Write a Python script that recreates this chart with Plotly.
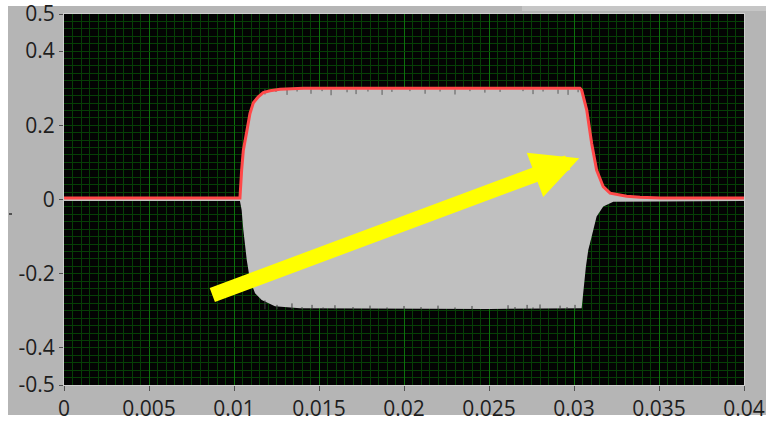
import plotly.graph_objects as go

# ---- data ----
# upper envelope of the burst (red trace)
up_t = [0.0, 0.01035, 0.01045, 0.01055, 0.01075, 0.01094, 0.01114, 0.01143, 0.01172,
        0.01212, 0.01271, 0.01408, 0.0200, 0.0250, 0.03035, 0.03045, 0.03075, 0.03104,
        0.03133, 0.03172, 0.03212, 0.0331, 0.03388, 0.0351, 0.04]
up_v = [0.004, 0.004, 0.080, 0.133, 0.183, 0.232, 0.261, 0.277, 0.288,
        0.293, 0.297, 0.300, 0.300, 0.300, 0.300, 0.295, 0.241, 0.151,
        0.0795, 0.0345, 0.017, 0.009, 0.006, 0.004, 0.004]
# lower envelope of the burst (grey signal)
lo_t = [0.0, 0.01035, 0.01045, 0.01055, 0.01065, 0.01075, 0.01094, 0.01124, 0.01163,
        0.01241, 0.01388, 0.0200, 0.0250, 0.03045, 0.03055, 0.0307, 0.03084, 0.03104,
        0.03133, 0.03172, 0.03231, 0.0333, 0.04]
lo_v = [-0.004, -0.004, -0.028, -0.082, -0.127, -0.163, -0.217, -0.253, -0.271,
        -0.288, -0.293, -0.295, -0.295, -0.293, -0.244, -0.181, -0.136, -0.100,
        -0.046, -0.019, -0.006, -0.004, -0.004]

# dark dips along the top edge of the signal (time, lowest value)
top_dip_t = [0.01182, 0.01247, 0.01312, 0.01371, 0.01453, 0.01518, 0.01571, 0.01665,
             0.01718, 0.01788, 0.01871, 0.01929, 0.02035, 0.02124, 0.02212, 0.02300,
             0.02388, 0.02476, 0.02565, 0.02700, 0.02759, 0.02818, 0.02906, 0.02965, 0.03024]
top_dip_v = [0.283, 0.290, 0.282, 0.291, 0.285, 0.292, 0.281, 0.289,
             0.284, 0.291, 0.282, 0.290, 0.292, 0.285, 0.291, 0.283,
             0.292, 0.288, 0.290, 0.292, 0.284, 0.291, 0.285, 0.282, 0.289]
# dark teeth along the bottom edge of the signal (time, highest value)
bot_dip_t = [0.01182, 0.01253, 0.01341, 0.01400, 0.01459, 0.01524, 0.01594, 0.01700,
             0.01800, 0.01900, 0.02000, 0.02100, 0.02200, 0.02300, 0.02400, 0.02612,
             0.02653, 0.02724, 0.02759, 0.02800, 0.02918, 0.02959, 0.03006]
bot_dip_v = [-0.272, -0.284, -0.280, -0.290, -0.284, -0.291, -0.285, -0.290,
             -0.286, -0.291, -0.287, -0.290, -0.286, -0.291, -0.287, -0.285,
             -0.290, -0.284, -0.291, -0.283, -0.286, -0.290, -0.284]

x_ticks = [0, 0.005, 0.01, 0.015, 0.02, 0.025, 0.03, 0.035, 0.04]
x_labels = ["0", "0.005", "0.01", "0.015", "0.02", "0.025", "0.03", "0.035", "0.04"]
y_ticks = [-0.5, -0.4, -0.2, 0, 0.2, 0.4, 0.5]
y_labels = ["-0.5", "-0.4", "-0.2", "0", "0.2", "0.4", "0.5"]

# ---- figure ----
poly_x = up_t + lo_t[::-1]
poly_y = up_v + lo_v[::-1]

def segments(ts, vs, base):
    xs, ys = [], []
    for t, v in zip(ts, vs):
        xs += [t, t, None]
        ys += [base, v, None]
    return xs, ys

fig = go.Figure()
fig.add_trace(go.Scatter(x=poly_x, y=poly_y, mode="lines", fill="toself",
                         fillcolor="#c0c0c0", line=dict(width=0, color="#c0c0c0"),
                         hoverinfo="skip", showlegend=False))
sx, sy = segments(top_dip_t, top_dip_v, 0.297)
fig.add_trace(go.Scatter(x=sx, y=sy, mode="lines", line=dict(color="#5a5a5a", width=1),
                         hoverinfo="skip", showlegend=False))
bx, by = segments(bot_dip_t, bot_dip_v, -0.296)
fig.add_trace(go.Scatter(x=bx, y=by, mode="lines", line=dict(color="#404040", width=1),
                         hoverinfo="skip", showlegend=False))
fig.add_trace(go.Scatter(x=up_t, y=up_v, mode="lines",
                         line=dict(color="#ff4848", width=3),
                         showlegend=False))

fig.add_annotation(x=0.03031, y=0.111, ax=0.008635, ay=-0.2588,
                   xref="x", yref="y", axref="x", ayref="y",
                   text="", showarrow=True, arrowhead=2, arrowsize=0.63,
                   arrowwidth=15, arrowcolor="#ffff00")

GRID_MINOR = "#063f06"
GRID_MAJOR = "#0c700c"

fig.update_xaxes(range=[0, 0.04], tickmode="array", tickvals=x_ticks, ticktext=x_labels,
                 showgrid=True, gridcolor=GRID_MAJOR, gridwidth=1,
                 minor=dict(dtick=0.0005, tick0=0, showgrid=True, gridcolor=GRID_MINOR,
                            gridwidth=1, ticklen=0),
                 ticks="outside", ticklen=5, tickcolor="#505050",
                 showline=True, linecolor="#cfcfcf", linewidth=1, mirror=True,
                 zeroline=False, fixedrange=True, ticklabeloverflow="allow")
fig.update_yaxes(range=[-0.5, 0.5], tickmode="array", tickvals=y_ticks, ticktext=y_labels,
                 showgrid=True, gridcolor=GRID_MINOR, gridwidth=1,
                 minor=dict(dtick=0.02, tick0=0, showgrid=True, gridcolor=GRID_MINOR,
                            gridwidth=1, ticklen=0),
                 ticks="outside", ticklen=4, tickcolor="#505050",
                 showline=True, linecolor="#cfcfcf", linewidth=1, mirror=True,
                 zeroline=False, fixedrange=True, ticklabeloverflow="allow")

# white strips of the screenshot frame (outside plot area)
W, H = 766, 425
L, R, T, B = 64, 22, 14, 40
pw, ph = W - L - R, H - T - B
def px(xp):
    return (xp - L) / pw
def py(yp):
    return (H - B - yp) / ph
shapes = [
    dict(type="rect", xref="paper", yref="paper", x0=px(0), x1=px(W), y0=py(0), y1=py(6),
         fillcolor="white", line=dict(width=0), layer="below"),
    dict(type="rect", xref="paper", yref="paper", x0=px(0), x1=px(8), y0=py(0), y1=py(H),
         fillcolor="white", line=dict(width=0), layer="below"),
    dict(type="rect", xref="paper", yref="paper", x0=px(0), x1=px(W), y0=py(415), y1=py(H),
         fillcolor="white", line=dict(width=0), layer="below"),
    dict(type="rect", xref="paper", yref="paper", x0=px(522), x1=px(W), y0=py(6), y1=py(11),
         fillcolor="#c6c6c6", line=dict(width=0), layer="below"),
    dict(type="line", xref="paper", yref="paper", x0=px(9), x1=px(12), y0=py(214), y1=py(214),
         line=dict(color="#303030", width=1.5), layer="below"),
]

fig.update_layout(width=W, height=H,
                  margin=dict(l=L, r=R, t=T, b=B, pad=0, autoexpand=False),
                  paper_bgcolor="#b5b5b5", plot_bgcolor="#030303",
                  font=dict(family="Open Sans, Noto Sans, sans-serif", size=21, color="#1e1e1e"),
                  shapes=shapes, showlegend=False)

fig.write_html("out.html")
